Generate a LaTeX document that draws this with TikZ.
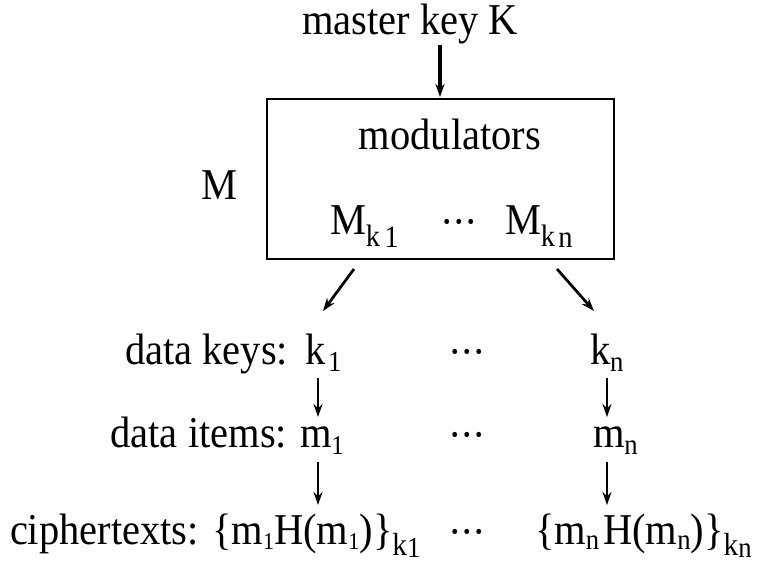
\documentclass[tikz,border=0pt]{standalone}
\usepackage{fontspec}
\setmainfont{Liberation Serif}[FakeStretch=0.92]
\usetikzlibrary{arrows.meta}

% lowered, smaller text for subscripts
\newcommand{\lowr}[3]{\raisebox{-#1}{\fontsize{#2}{#2}\selectfont #3}}
% three centred dots
\newcommand{\cdotsrow}{\raisebox{-2pt}{\textperiodcentered\kern-1.5pt\textperiodcentered\kern-1.5pt\textperiodcentered}}

\begin{document}
\begin{tikzpicture}[x=1pt,y=1pt,
  every node/.style={inner sep=0pt,outer sep=0pt,font=\fontsize{44}{48}\selectfont},
  lbl/.style={anchor=base},
  arr/.style={line width=2.7pt,-{Stealth[length=13pt,width=9pt]}},
  bigarr/.style={line width=3.4pt,-{Stealth[length=13pt,width=9pt]}}]
\useasboundingbox (0,0) rectangle (769,564);

% key and modulator box
\node[lbl] (master) at (410,529) {master key K};
\draw[line width=2.4pt] (267,465) rectangle (614,305);
\coordinate (boxtop) at (440,467);
\node[lbl] (mod) at (450,414) {modulators};
\node[lbl] (Mlabel) at (219,364) {M};
\node[anchor=base west] (Mk1) at (330,329) {M\lowr{12pt}{31}{k\hspace{4pt}\raisebox{-1pt}{1}}};
\node[lbl] (Mdots) at (459,329) {\cdotsrow};
\node[anchor=base west] (Mkn) at (505,329) {M\lowr{12pt}{31}{k\hspace{3pt}\raisebox{-1pt}{n}}};

\draw[bigarr] ([yshift=-10pt]master.base -| boxtop) -- (boxtop);

% data keys
\node[anchor=base east] (dk) at (288,199) {data keys:};
\node[anchor=base west] (k1) at (305,199) {k\hspace{3pt}\lowr{7pt}{29}{1}};
\node[lbl] (kdots) at (467,199) {\cdotsrow};
\node[anchor=base west] (kn) at (590,199) {k\lowr{7pt}{29}{n}};

% data items
\node[anchor=base east] (di) at (287,116) {data items:};
\node[anchor=base west] (m1) at (300,116) {m\lowr{7pt}{27}{1}};
\node[lbl] (mdots) at (467,116) {\cdotsrow};
\node[anchor=base west] (mn) at (593,116) {m\lowr{7pt}{29}{n}};

% ciphertexts
\node[anchor=base west] (c1) at (10,19) {ciphertexts: \{m\lowr{5pt}{24}{1}H(m\lowr{5pt}{24}{1})\}\lowr{11pt}{32}{k\lowr{2pt}{29}{1}}};
\node[lbl] (cdots) at (467,19) {\cdotsrow};
\node[anchor=base west] (cn) at (535,19) {\{m\lowr{5pt}{29}{n}\hspace{4pt}H(m\lowr{5pt}{29}{n})\}\lowr{11pt}{32}{k\lowr{2pt}{29}{n}}};

% modulators to data keys
\coordinate (l1) at (354,295);
\coordinate (l2) at (323,253);
\coordinate (r1) at (557,295);
\coordinate (r2) at (594,253);
\draw[arr] (l1) -- (l2);
\draw[arr] (r1) -- (r2);

% data keys to data items to ciphertexts
\draw[arr] (318,186) -- (318,147);
\draw[arr] (607,186) -- (607,147);
\draw[arr] (318,102) -- (318,59);
\draw[arr] (607,102) -- (607,59);
\end{tikzpicture}
\end{document}
